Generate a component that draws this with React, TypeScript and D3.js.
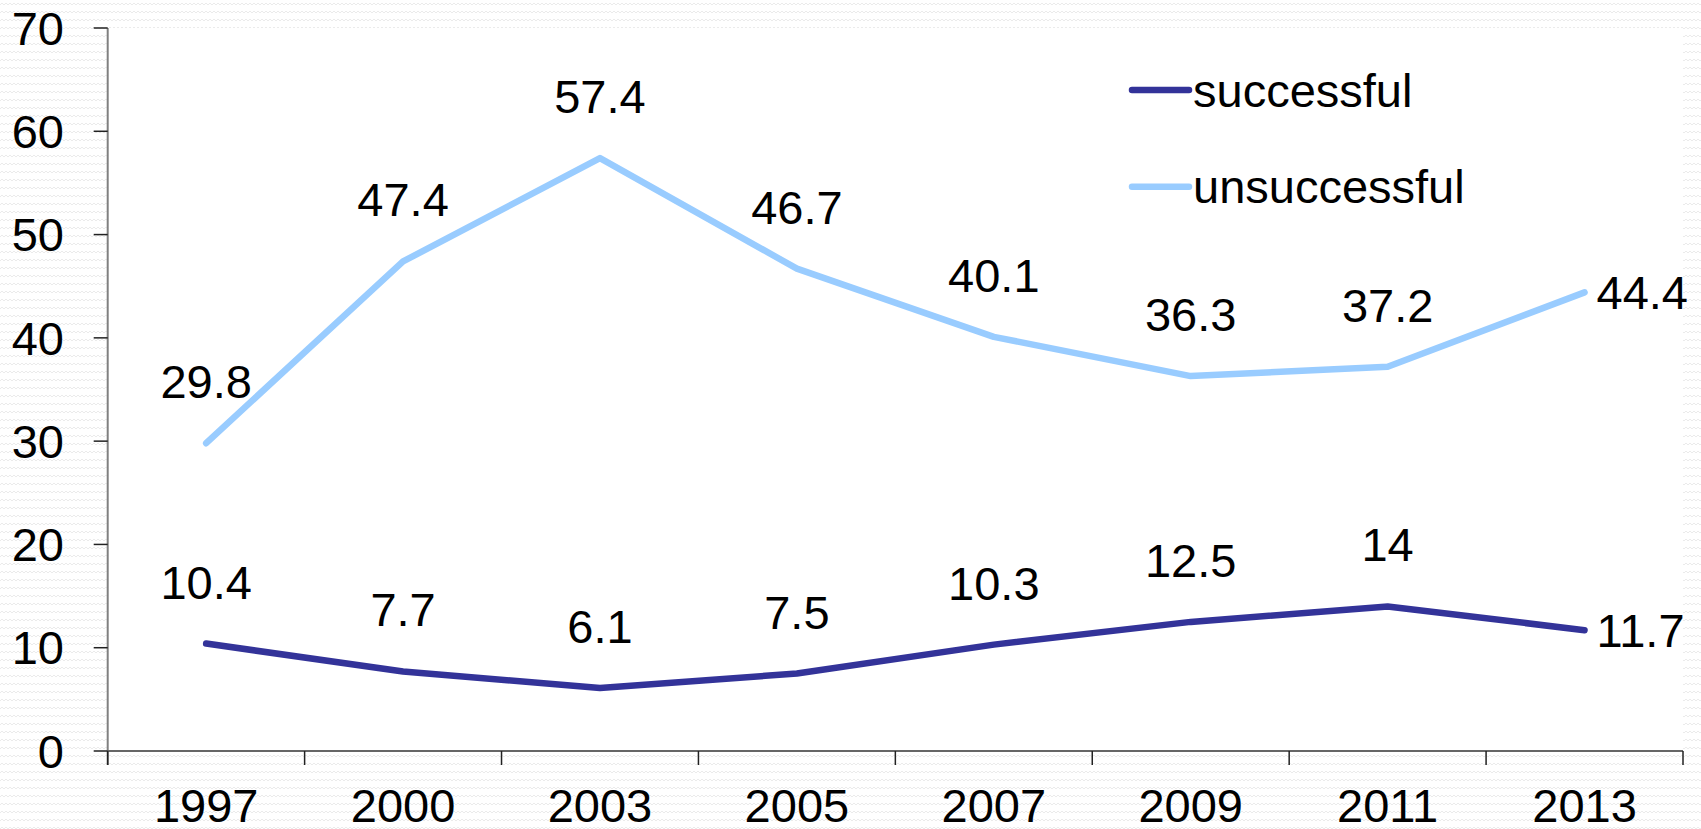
import React from "react";
import * as d3 from "d3";

const years = ["1997", "2000", "2003", "2005", "2007", "2009", "2011", "2013"];
const successful = [10.4, 7.7, 6.1, 7.5, 10.3, 12.5, 14, 11.7];
const unsuccessful = [29.8, 47.4, 57.4, 46.7, 40.1, 36.3, 37.2, 44.4];
const yTicks = [0, 10, 20, 30, 40, 50, 60, 70];
const seriesNames = ["successful", "unsuccessful"];
const seriesColors = ["#333399", "#99CCFF"];

const W = 1701;
const H = 829;
const left = 107.7;
const right = 1683;
const top = 28;
const bottom = 751;
const FONT = "'Liberation Sans', Arial, sans-serif";
const FS = 47;

export default function App() {
  const x = d3.scaleBand<string>().domain(years).range([left, right]);
  const y = d3.scaleLinear().domain([0, 70]).range([bottom, top]);
  const cx = (d: string) => (x(d) as number) + x.bandwidth() / 2;
  const line = d3
    .line<number>()
    .x((_, i) => cx(years[i]))
    .y((v) => y(v));
  const series = [successful, unsuccessful];
  const boundaries = years.map((d) => x(d) as number).concat([right]);

  return (
    <svg
      width={W}
      height={H}
      style={{ position: "absolute", left: 0, top: 0, display: "block" }}
      fontFamily={FONT}
    >
      <defs>
        <pattern id="wave" width={8} height={8} patternUnits="userSpaceOnUse">
          <rect width={8} height={8} fill="#ffffff" />
          <path d="M0,5 L2,3 L4,5 L6,3 L8,5" fill="none" stroke="#ebebeb" strokeWidth={1} />
        </pattern>
      </defs>
      <rect x={0} y={0} width={W} height={H} fill="url(#wave)" />
      <rect x={left} y={top} width={right - left} height={bottom - top} fill="#ffffff" />

      {/* y axis */}
      <line x1={left} x2={left} y1={top} y2={bottom + 14} stroke="#808080" strokeWidth={2} />
      {yTicks.map((t) => (
        <g key={t}>
          <line x1={left - 14} x2={left} y1={y(t)} y2={y(t)} stroke="#222" strokeWidth={1.5} />
          <text x={64} y={y(t)} dy="0.355em" textAnchor="end" fontSize={FS} fill="#000">
            {t}
          </text>
        </g>
      ))}

      {/* x axis */}
      <line x1={left} x2={right} y1={bottom} y2={bottom} stroke="#666" strokeWidth={2} />
      {boundaries.map((b, i) => (
        <line key={i} x1={b} x2={b} y1={bottom} y2={bottom + 14} stroke="#222" strokeWidth={1.5} />
      ))}
      {years.map((d) => (
        <text key={d} x={cx(d)} y={822} textAnchor="middle" fontSize={FS} fill="#000">
          {d}
        </text>
      ))}

      {/* lines */}
      {series.map((s, si) => (
        <path
          key={si}
          d={line(s) as string}
          fill="none"
          stroke={seriesColors[si]}
          strokeWidth={6.5}
          strokeLinecap="round"
          strokeLinejoin="round"
        />
      ))}

      {/* data labels */}
      {series.map((s, si) =>
        s.map((v, i) => {
          const last = i === s.length - 1;
          return last ? (
            <text
              key={`${si}-${i}`}
              x={cx(years[i]) + 12}
              y={y(v)}
              dy="0.355em"
              textAnchor="start"
              fontSize={FS}
              fill="#000"
            >
              {v}
            </text>
          ) : (
            <text
              key={`${si}-${i}`}
              x={cx(years[i])}
              y={y(v) - 45}
              textAnchor="middle"
              fontSize={FS}
              fill="#000"
            >
              {v}
            </text>
          );
        })
      )}

      {/* legend */}
      {seriesNames.map((n, i) => {
        const ly = 90 + i * 96.7;
        return (
          <g key={n}>
            <line
              x1={1132}
              x2={1189}
              y1={ly}
              y2={ly}
              stroke={seriesColors[i]}
              strokeWidth={6.5}
              strokeLinecap="round"
            />
            <text x={1193} y={ly} dy="0.355em" fontSize={FS} fill="#000">
              {n}
            </text>
          </g>
        );
      })}
    </svg>
  );
}
